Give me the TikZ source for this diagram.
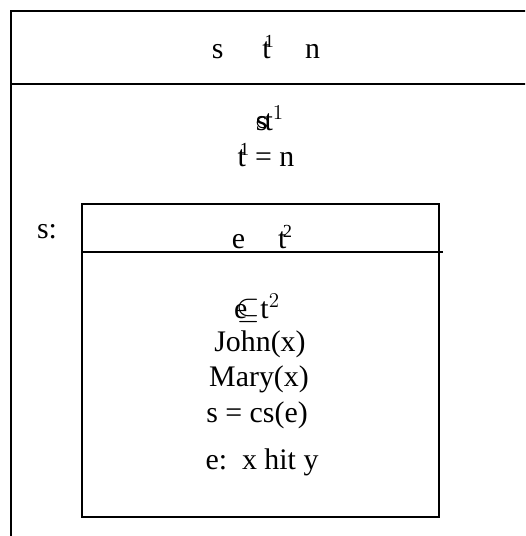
\documentclass[tikz,border=0pt]{standalone}
\usepackage{fontspec}
\setmainfont{Liberation Serif}
\usepackage{tikz}
\usetikzlibrary{positioning}
\newcommand{\supsize}{\fontsize{10.5}{11}\selectfont}
\newcommand{\tone}{t\kern-0.2em\raisebox{0.75ex}{\supsize 1}\kern-0.05em}
\newcommand{\ttwo}{t\kern-0.12em\raisebox{0.75ex}{\supsize 2}}
\tikzset{
  boxline/.style={draw=black,line width=0.9pt},
  cond/.style={font=\fontsize{17}{19}\selectfont,inner sep=0pt},
}
\begin{document}
\begin{tikzpicture}[x=0.02cm,y=-0.02cm]
  \useasboundingbox (0,0) rectangle (525,536);
  \clip (0,0) rectangle (525,536);
  % outer box
  \draw[boxline] (11,11) rectangle (540,550);
  \draw[boxline] (11,84) -- (540,84);
  \node[cond] (top) at (266,47) {s\hspace{1.3em}\tone\hspace{1.1em}n};
  \node[cond] (ov) at (270,118) {\rlap{s}\kern-0.02em$\circ$\kern-0.2em t$^{1}$};
  \node[cond] (eq) at (266,155) {\tone\ = n};
  % inner box
  \node[cond] (lab) at (47,232) {s:};
  \draw[boxline] (82,204) rectangle (439,517);
  \draw[boxline] (82,252) -- (443,252);
  \node[cond] (ehead) at (262,237) {e\hspace{1.1em}\ttwo};
  \node[cond] (sub) at (257,308) {e\kern-0.35em$\subseteq$t$^{2}$};
  \node[cond] (john) at (260,344) {John(x)};
  \node[cond] (mary) at (259,379) {Mary(x)};
  \node[cond] (cs) at (257,415) {s = cs(e)};
  \node[cond] (hit) at (262,462) {e:\ \ x hit y};
\end{tikzpicture}
\end{document}
